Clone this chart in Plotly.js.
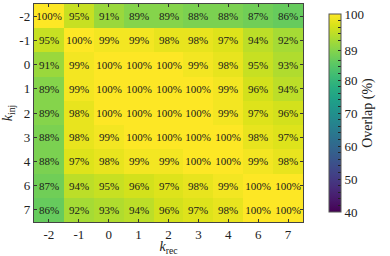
<!DOCTYPE html>
<html><head><meta charset="utf-8">
<script src="https://cdn.plot.ly/plotly-3.0.1.min.js"></script>
<style>body{margin:0;padding:0;background:#fff}#c{width:390px;height:256px}</style>
</head><body><div id="c"></div>
<script>
const kRec = ["-2","-1","0","1","2","3","4","6","7"];
const kInj = ["-2","-1","0","1","2","3","4","6","7"];
const rowM2 = [100,95,91,89,89,88,88,87,86];
const rowM1 = [95,100,99,99,98,98,97,94,92];
const row0  = [91,99,100,100,100,99,98,95,93];
const row1  = [89,99,100,100,100,100,99,96,94];
const row2  = [89,98,100,100,100,100,99,97,96];
const row3  = [88,98,99,100,100,100,100,98,97];
const row4  = [88,97,98,99,99,100,100,99,98];
const row6  = [87,94,95,96,97,98,99,100,100];
const row7  = [86,92,93,94,96,97,98,100,100];
const cbTicks = [40,50,60,70,80,89,100];

const z = [rowM2,rowM1,row0,row1,row2,row3,row4,row6,row7];
const font = "Liberation Serif";
const cbVals = [];
for (let v = 40; v <= 100; v += 2) { if (v !== 88 && v !== 90) cbVals.push(v); }
cbVals.push(89); cbVals.sort((a, b) => a - b);
const cbText = cbVals.map(v => cbTicks.includes(v) ? String(v) : " ");

Plotly.newPlot("c", [{
  type: "heatmap",
  x: kRec, y: kInj, z: z,
  colorscale: "Viridis", zmin: 40, zmax: 100,
  texttemplate: "%{z}%",
  textfont: {family: font, size: 11, color: "#1a1a1a"},
  colorbar: {
    x: 1.061, xanchor: "left", y: 0.5, yanchor: "middle",
    thickness: 12, len: 1.0, lenmode: "fraction",
    outlinecolor: "#555", outlinewidth: 1,
    tickmode: "array", tickvals: cbVals, ticktext: cbText,
    ticks: "inside", ticklen: 3, tickcolor: "#222",
    tickfont: {family: font, size: 13, color: "#222"},
    title: {text: "Overlap (%)", side: "right", font: {family: font, size: 14, color: "#222"}}
  }
}], {
  width: 390, height: 256,
  margin: {l: 34, r: 74, t: 4, b: 34},
  paper_bgcolor: "#fff", plot_bgcolor: "#fff",
  font: {family: font, size: 12, color: "#222"},
  xaxis: {
    type: "category", ticks: "inside", ticklen: 3, tickcolor: "#333",
    mirror: "ticks", showline: true, linecolor: "#444", linewidth: 1.2,
    tickfont: {family: font, size: 13, color: "#222"},
    title: {text: "<i>k</i><sub>rec</sub>", standoff: 8, font: {family: font, size: 14, color: "#222"}}
  },
  yaxis: {
    type: "category", autorange: "reversed", ticks: "inside", ticklen: 3, tickcolor: "#333",
    mirror: "ticks", showline: true, linecolor: "#444", linewidth: 1.2,
    tickfont: {family: font, size: 13, color: "#222"},
    title: {text: "<i>k</i><sub>inj</sub>", standoff: 5, font: {family: font, size: 14, color: "#222"}}
  }
}, {displayModeBar: false, staticPlot: true});
</script></body></html>
